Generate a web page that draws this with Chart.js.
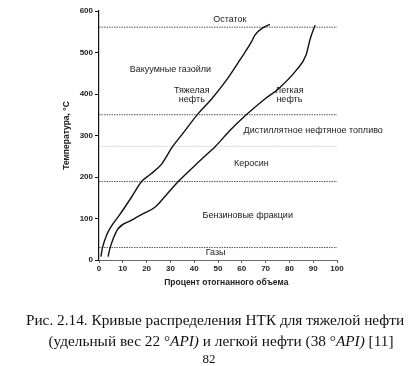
<!DOCTYPE html>
<html>
<head>
<meta charset="utf-8">
<script src="https://cdn.jsdelivr.net/npm/chart.js@4"></script>
<style>
  html, body { margin: 0; padding: 0; background: #fff; }
  #wrap { position: relative; width: 418px; height: 366px; }
  .cap {
    position: absolute; left: 0; width: 430px; text-align: center; white-space: nowrap;
    font-family: "Liberation Serif", serif; font-size: 15.3px; line-height: 20px; color: #111;
  }
  #page {
    position: absolute; left: 0; top: 351px; width: 418px; text-align: center;
    font-family: "Liberation Serif", serif; font-size: 13px; color: #111;
  }
</style>
</head>
<body>
<div id="wrap">
  <canvas id="chart" width="418" height="366"></canvas>
  <div class="cap" style="top:310px">Рис. 2.14. Кривые распределения НТК для тяжелой нефти</div>
  <div class="cap" style="top:331px;left:6px">(удельный вес 22 °<i>API)</i> и легкой нефти (38 °<i>API)</i> [11]</div>
  <div id="page">82</div>
</div>
<script>
// Distillation curves: [% distilled, temperature °C]
const heavyOil = [
  [0.8, 8], [1.4, 28], [3.2, 60], [5.5, 84], [8.8, 110], [13.5, 150], [17.9, 189],
  [21.5, 206], [26.3, 231], [30.9, 273], [35.5, 307], [41.4, 351], [47.3, 388],
  [53.6, 434], [59.2, 482], [64.1, 526], [65.5, 542], [69, 560], [71.8, 568]
];
const lightOil = [
  [3.8, 8], [4.6, 28], [6, 52], [8.1, 76], [13.7, 96], [18, 110], [23.5, 127],
  [28, 155], [33.3, 189], [40, 226], [47.3, 265], [48.8, 273], [55, 312],
  [62.1, 351], [69.7, 388], [75.3, 412], [83, 458], [87, 494], [88.7, 532], [90.8, 566]
];

// Cut boundaries between fractions (°C)
const cutTemps = [561, 350, 189, 30];
const faintCutTemp = 274;

// Fraction labels: [text, % position, temperature]
const fractionLabels = [
  ['Остаток', 55, 580],
  ['Вакуумные газойли', 30, 459],
  ['Тяжелая', 39, 408],
  ['нефть', 39, 387],
  ['Легкая', 80, 408],
  ['нефть', 80, 387],
  ['Дистиллятное нефтяное топливо', 90, 313],
  ['Керосин', 64, 233],
  ['Бензиновые фракции', 62.5, 108],
  ['Газы', 49, 19]
];

const xTicks = [0, 10, 20, 30, 40, 50, 60, 70, 80, 90, 100];
const yTicks = [0, 100, 200, 300, 400, 500, 600];

const toPts = arr => arr.map(p => ({ x: p[0], y: p[1] }));
const cutLine = (t, color) => ({
  data: [{ x: 0, y: t }, { x: 100, y: t }],
  showLine: true, borderColor: color, borderWidth: 1, borderDash: [1.5, 1],
  pointRadius: 0, order: 2
});

const labelPlugin = {
  id: 'fractionLabels',
  afterDatasetsDraw(chart) {
    const { ctx, scales } = chart;
    ctx.save();
    ctx.font = '9px "Liberation Sans", Arial, sans-serif';
    ctx.fillStyle = '#1a1a1a';
    ctx.textAlign = 'center';
    ctx.textBaseline = 'middle';
    fractionLabels.forEach(([text, x, y]) => {
      ctx.fillText(text, scales.x.getPixelForValue(x), scales.y.getPixelForValue(y));
    });
    ctx.restore();
  }
};

const tickFont = { family: '"Liberation Sans", Arial, sans-serif', size: 8, weight: 'bold' };
const titleFont = { family: '"Liberation Sans", Arial, sans-serif', size: 8.5, weight: 'bold' };

new Chart(document.getElementById('chart'), {
  type: 'scatter',
  data: {
    datasets: [
      ...cutTemps.map(t => cutLine(t, '#555')),
      cutLine(faintCutTemp, '#c8cfc4'),
      { data: toPts(heavyOil), showLine: true, borderColor: '#111', borderWidth: 1.4,
        pointRadius: 0, cubicInterpolationMode: 'monotone', order: 1 },
      { data: toPts(lightOil), showLine: true, borderColor: '#111', borderWidth: 1.4,
        pointRadius: 0, cubicInterpolationMode: 'monotone', order: 1 }
    ]
  },
  options: {
    responsive: false,
    animation: false,
    layout: { padding: { left: 0, top: 11, right: 81, bottom: 76 } },
    plugins: { legend: { display: false }, tooltip: { enabled: false } },
    scales: {
      x: {
        type: 'linear', min: 0, max: 100,
        afterBuildTicks: s => { s.ticks = xTicks.map(v => ({ value: v })); },
        afterFit: s => { s.height = 30; },
        grid: { display: true, drawOnChartArea: false, tickLength: 3, color: '#666' },
        border: { display: true, color: '#666', width: 1 },
        ticks: { color: '#222', font: tickFont, padding: 1, maxRotation: 0 },
        title: { display: true, text: '\u00a0\u00a0\u00a0\u00a0\u00a0\u00a0\u00a0Процент отогнанного объема',
          color: '#222', font: titleFont, padding: { top: 0, bottom: 2 } }
      },
      y: {
        type: 'linear', min: 0, max: 600,
        afterBuildTicks: s => { s.ticks = yTicks.map(v => ({ value: v })); },
        afterFit: s => { s.width = 99; },
        grid: { display: true, drawOnChartArea: false, tickLength: 4, color: '#111' },
        border: { display: true, color: '#111', width: 1.2 },
        ticks: { color: '#222', font: tickFont, padding: 2 },
        title: { display: true, text: 'Температура, °С', color: '#222',
          font: titleFont, padding: { top: 62, bottom: 0 } }
      }
    }
  },
  plugins: [labelPlugin]
});
</script>
</body>
</html>
